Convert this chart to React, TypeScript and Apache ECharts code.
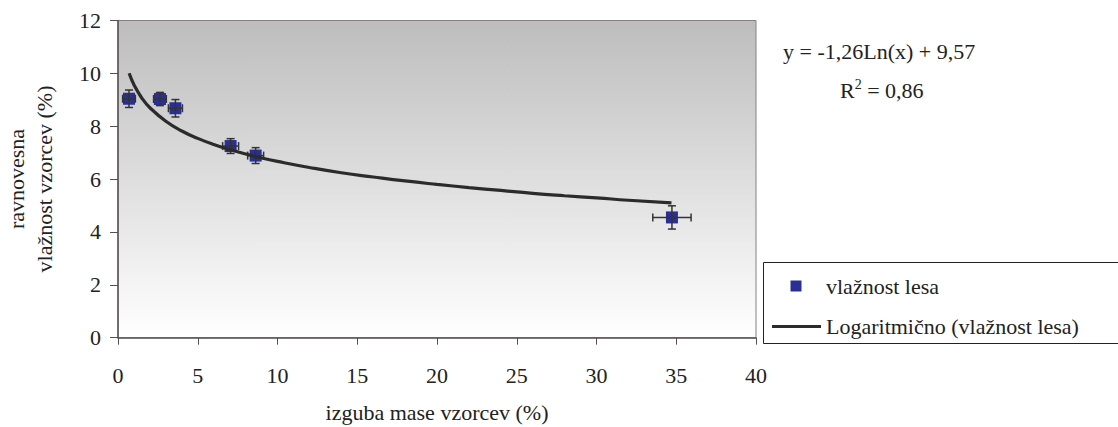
import React, { useEffect, useRef } from "react";
import * as echarts from "echarts";

// Measured points: x = izguba mase (%), y = vlažnost (%)
const pointX = [0.69, 2.63, 3.6, 7.06, 8.63, 34.73];
const pointY = [9.04, 9.03, 8.68, 7.25, 6.89, 4.55];
const errX = [0.4, 0.4, 0.44, 0.5, 0.5, 1.2];
const errY = [0.33, 0.25, 0.33, 0.28, 0.3, 0.44];

// Logarithmic trend line
const trendX = [0.7, 1, 1.5, 2, 3, 4, 5, 6, 7, 8, 9, 10, 12, 14, 16, 18, 20, 22, 24, 26, 28, 30, 32, 34.7];
const trendY = [10.0, 9.57, 9.06, 8.7, 8.19, 7.82, 7.54, 7.31, 7.12, 6.95, 6.8, 6.67, 6.44, 6.24, 6.08, 5.93, 5.8, 5.68, 5.57, 5.46, 5.37, 5.29, 5.2, 5.1];

const xTicks = { min: 0, max: 40, interval: 5 };
const yTicks = { min: 0, max: 12, interval: 2 };

const seriesName = "vlažnost lesa";
const trendName = "Logaritmično (vlažnost lesa)";
const eqText = "y = -1,26Ln(x) + 9,57";
const r2Text = "= 0,86";
const xTitle = "izguba mase vzorcev (%)";
const yTitle1 = "ravnovesna";
const yTitle2 = "vlažnost vzorcev (%)";

const FONT = "Liberation Serif";
const FS = 22;
const TXT = "#222";
const MARK = "#2b2e94";
const LINE = "#2b2b2b";

function buildOption(): any {
  const pts = pointX.map((x, i) => [x, pointY[i]]);
  const errData = pointX.map((x, i) => [x, pointY[i], errX[i], errY[i]]);
  const trend = trendX.map((x, i) => [x, trendY[i]]);
  const textEl = (s: string, x: number, y: number, extra: any = {}, rot = 0) => ({
    type: "text",
    x,
    y,
    rotation: rot,
    style: { text: s, fontFamily: FONT, fontSize: FS, fill: TXT, verticalAlign: "middle", ...extra },
  });
  return {
    animation: false,
    grid: {
      left: 118,
      right: 362,
      top: 20.5,
      bottom: 89.3,
      show: true,
      backgroundColor: new echarts.graphic.LinearGradient(0, 0, 0, 1, [
        { offset: 0, color: "#bdbdbd" },
        { offset: 1, color: "#ffffff" },
      ]),
      borderColor: "#8a8080",
      borderWidth: 1,
    },
    xAxis: {
      type: "value",
      ...xTicks,
      axisLine: { show: true, onZero: false, lineStyle: { color: "#5a5050", width: 1.5 } },
      axisTick: { show: true, inside: false, length: 7, lineStyle: { color: "#5a5050" } },
      splitLine: { show: false },
      axisLabel: { margin: 27, fontFamily: FONT, fontSize: FS, color: TXT },
    },
    yAxis: {
      type: "value",
      ...yTicks,
      axisLine: { show: true, onZero: false, lineStyle: { color: "#5a5050", width: 1.5 } },
      axisTick: { show: true, inside: false, length: 8, lineStyle: { color: "#5a5050" } },
      splitLine: { show: false },
      axisLabel: { margin: 17, fontFamily: FONT, fontSize: FS, color: TXT },
    },
    series: [
      {
        name: seriesName,
        type: "scatter",
        data: pts,
        symbol: "rect",
        symbolSize: 12,
        itemStyle: { color: MARK, opacity: 1 },
        z: 2,
      },
      {
        type: "custom",
        data: errData,
        z: 3,
        renderItem: (params: any, api: any) => {
          const x = api.value(0);
          const y = api.value(1);
          const ex = api.value(2);
          const ey = api.value(3);
          const l = api.coord([x - ex, y]);
          const r = api.coord([x + ex, y]);
          const t = api.coord([x, y + ey]);
          const b = api.coord([x, y - ey]);
          const c = 4;
          const st = { stroke: "#333", lineWidth: 1.5 };
          return {
            type: "group",
            children: [
              { type: "line", shape: { x1: l[0], y1: l[1], x2: r[0], y2: r[1] }, style: st },
              { type: "line", shape: { x1: l[0], y1: l[1] - c, x2: l[0], y2: l[1] + c }, style: st },
              { type: "line", shape: { x1: r[0], y1: r[1] - c, x2: r[0], y2: r[1] + c }, style: st },
              { type: "line", shape: { x1: t[0], y1: t[1], x2: b[0], y2: b[1] }, style: st },
              { type: "line", shape: { x1: t[0] - c, y1: t[1], x2: t[0] + c, y2: t[1] }, style: st },
              { type: "line", shape: { x1: b[0] - c, y1: b[1], x2: b[0] + c, y2: b[1] }, style: st },
            ],
          };
        },
      },
      {
        name: trendName,
        type: "line",
        data: trend,
        smooth: true,
        showSymbol: false,
        lineStyle: { color: LINE, width: 3.2 },
        z: 4,
      },
    ],
    graphic: [
      textEl(eqText, 783, 51),
      {
        type: "text",
        x: 840,
        y: 90,
        style: {
          text: "{t|R}{s|2}{t| " + r2Text + "}",
          fontFamily: FONT,
          fontSize: FS,
          fill: TXT,
          verticalAlign: "middle",
          rich: {
            t: { fontFamily: FONT, fontSize: FS, fill: TXT },
            s: { fontFamily: FONT, fontSize: 14, fill: TXT, verticalAlign: "top", padding: [0, 0, 12, 0] },
          },
        },
      },
      textEl(yTitle1, 16, 179, { align: "center" }, Math.PI / 2),
      textEl(yTitle2, 44, 179, { align: "center" }, Math.PI / 2),
      textEl(xTitle, 437, 412, { align: "center" }),
      {
        type: "rect",
        shape: { x: 763.5, y: 262.5, width: 360, height: 81 },
        style: { fill: "#fff", stroke: "#222", lineWidth: 1 },
      },
      {
        type: "rect",
        shape: { x: 790.5, y: 280.5, width: 11, height: 11 },
        style: { fill: MARK },
      },
      textEl(seriesName, 826, 286),
      {
        type: "line",
        shape: { x1: 772, y1: 326.5, x2: 821, y2: 326.5 },
        style: { stroke: LINE, lineWidth: 3.2 },
      },
      textEl(trendName, 826, 326),
    ],
  };
}

export default function App() {
  const ref = useRef<HTMLDivElement>(null);
  useEffect(() => {
    if (!ref.current) return;
    const chart = echarts.init(ref.current, undefined, { renderer: "svg" });
    chart.setOption(buildOption());
    let alive = true;
    const redraw = () => {
      if (!alive) return;
      chart.setOption(buildOption(), true);
    };
    const fonts: any = (document as any).fonts;
    if (fonts && fonts.load) {
      fonts.load(FS + 'px "Liberation Serif"', "vlažnost 0123").then(redraw, redraw);
    }
    const tm = setTimeout(redraw, 60);
    return () => {
      alive = false;
      clearTimeout(tm);
      chart.dispose();
    };
  }, []);
  return (
    <div>
      <span style={{ position: "absolute", left: -9999, top: 0, fontFamily: "'Liberation Serif', serif", fontSize: FS }} aria-hidden="true">
        vlažnost
      </span>
      <div ref={ref} style={{ position: "absolute", left: 0, top: 0, width: 1118, height: 427 }} />
    </div>
  );
}
